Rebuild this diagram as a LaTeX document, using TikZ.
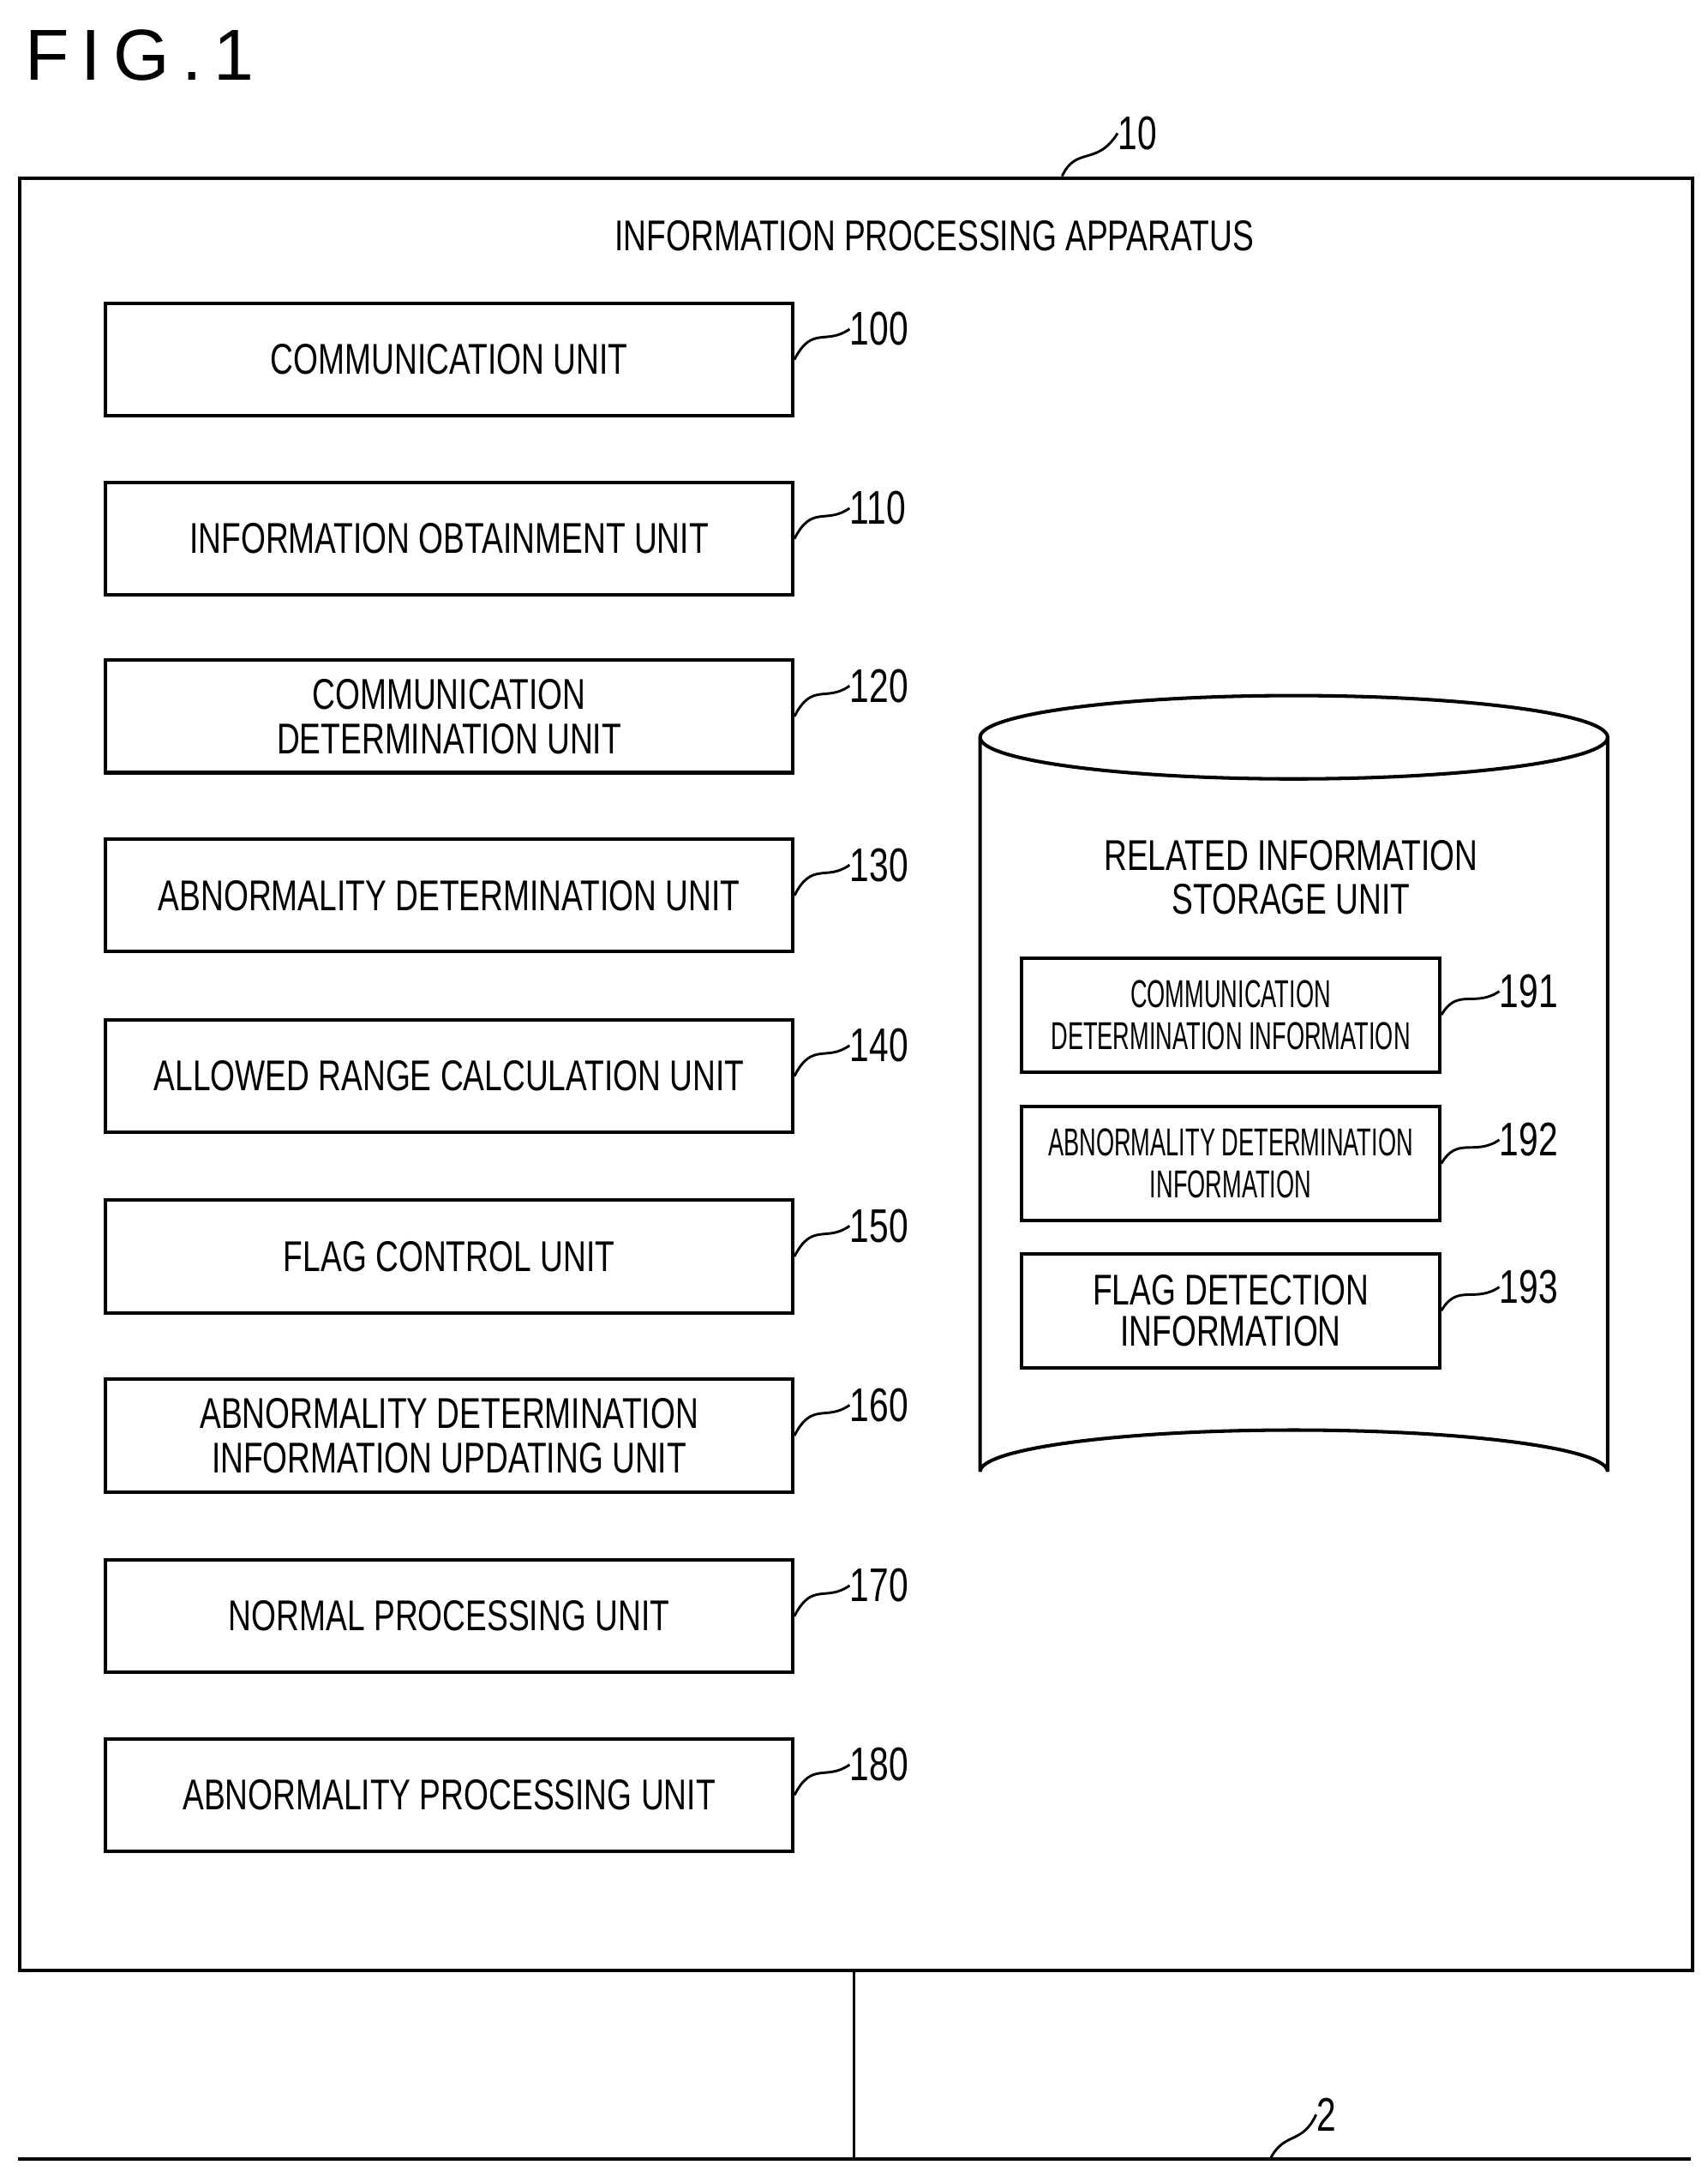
\documentclass[tikz,border=0pt]{standalone}
\usepackage{fontspec}
\setmainfont{Liberation Sans}
\usetikzlibrary{shapes.geometric}
\newcommand{\cn}[1]{\scalebox{0.74}[1]{#1}}
\begin{document}
\begin{tikzpicture}[x=1pt,y=-1pt,
  unit/.style={draw,line width=2.5pt,minimum width=495pt,minimum height=81pt,inner sep=0pt,align=center,font=\fontsize{31}{36}\selectfont},
  sub/.style={draw,line width=2.5pt,minimum width=301pt,minimum height=82pt,inner sep=0pt,align=center,font=\fontsize{28}{34}\selectfont},
  lbl/.style={font=\fontsize{34}{36}\selectfont,anchor=west,inner sep=0pt},
  lead/.style={line width=1.8pt}]
\useasboundingbox (0,0) rectangle (1230,1568);
\node[anchor=west,font=\fontsize{52}{56}\selectfont,inner sep=0pt] (fig) at (18,40) {F\,I\,G\,.\,1};
\node[draw,line width=2.5pt,minimum width=1205pt,minimum height=1291pt,anchor=north west,inner sep=0pt] (app) at (13,127) {};
\node[font=\fontsize{31}{36}\selectfont] (apt) at (673,170) {\cn{INFORMATION PROCESSING APPARATUS}};
\node[lbl] (l10) at (805,96) {\cn{10}};
\draw[lead] (765,127) .. controls (775,105) and (790,120) .. (l10.west);
\foreach \y/\n/\t in {259/100/{\cn{COMMUNICATION UNIT}},388/110/{\cn{INFORMATION OBTAINMENT UNIT}},516/120/{\cn{COMMUNICATION}\\[-4pt]\cn{DETERMINATION UNIT}},645/130/{\cn{ABNORMALITY DETERMINATION UNIT}},775/140/{\cn{ALLOWED RANGE CALCULATION UNIT}},905/150/{\cn{FLAG CONTROL UNIT}},1034/160/{\cn{ABNORMALITY DETERMINATION}\\[-4pt]\cn{INFORMATION UPDATING UNIT}},1164/170/{\cn{NORMAL PROCESSING UNIT}},1293/180/{\cn{ABNORMALITY PROCESSING UNIT}}}{
  \node[unit] (u\n) at (323.5,\y) {\t};
  \node[lbl] (l\n) at (612,\y-22) {\cn{\n}};
  \draw[lead] (u\n.east) .. controls (585,\y-25) and (595,\y-10) .. (l\n.west);
}
% cylinder
\node[inner sep=0pt,minimum size=0pt] (cyl) at (932,795) {};
\draw[line width=2.5pt,fill=white] (706,531) -- (706,1060) arc[start angle=180,end angle=360,x radius=226,y radius=30] -- (1158,531);
\draw[line width=2.5pt] (932,531) ellipse[x radius=226,y radius=30];
\node[align=center,font=\fontsize{31}{36}\selectfont] (rist) at (930,632) {\cn{RELATED INFORMATION}\\[-4pt]\cn{STORAGE UNIT}};
\foreach \y/\n/\t/\s in {731/191/{\scalebox{0.6}[1]{COMMUNICATION}\\[-4pt]\scalebox{0.6}[1]{DETERMINATION INFORMATION}}/28,838/192/{\scalebox{0.6}[1]{ABNORMALITY DETERMINATION}\\[-4pt]\scalebox{0.6}[1]{INFORMATION}}/28,944/193/{\cn{FLAG DETECTION}\\[-4pt]\cn{INFORMATION}}/31}{
  \node[sub,font=\fontsize{\s}{34}\selectfont] (s\n) at (886.5,\y) {\t};
  \node[lbl] (l\n) at (1080,\y-17) {\cn{\n}};
  \draw[lead] (s\n.east) .. controls (1050,\y-20) and (1062,\y-5) .. (l\n.west);
}
\coordinate (bus) at (615,1555);
\draw[line width=2pt] (615,1418) -- (bus);
\draw[line width=2.5pt] (13,1555) -- (1218,1555);
\node[lbl] (l2) at (948,1523) {\cn{2}};
\draw[lead] (915,1555) .. controls (925,1535) and (938,1545) .. (l2.west);
\end{tikzpicture}
\end{document}
